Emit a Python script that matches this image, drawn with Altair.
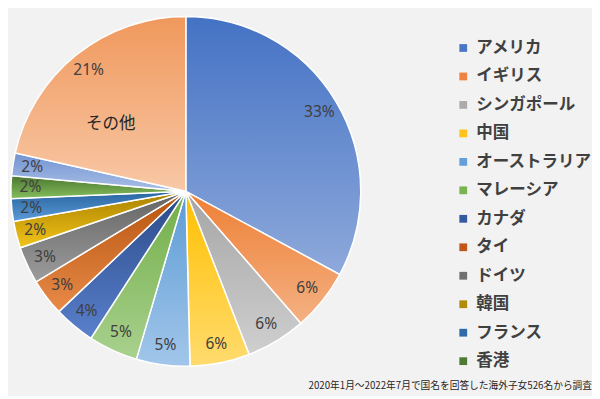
import math
import altair as alt
import pandas as pd

# ---- data (shares of 526 respondents) ----
countries = ["アメリカ", "イギリス", "シンガポール", "中国", "オーストラリア", "マレーシア",
             "カナダ", "タイ", "ドイツ", "韓国", "フランス", "香港", "（13位）", "その他"]
counts = [173, 30, 29, 29, 26, 24, 20, 18, 18, 13, 11, 11, 11, 113]
legend_countries = countries[:12]

# ---- styles ----
legend_colors = ["#4A76C8", "#EE8240", "#ABABAB", "#FFC31A", "#639FD8", "#78B352",
                 "#345A9E", "#C0561A", "#707070", "#B08C0A", "#2F6AA8", "#4F7A35"]
top_colors = ["#4472C4", "#EE7F35", "#A5A5A5", "#FFC000", "#5B9BD5", "#70AD47",
              "#2A4A88", "#B4540F", "#646464", "#A88000", "#2864A0", "#4A7530",
              "#7294D2", "#F0985C"]
bottom_colors = ["#8EA9DB", "#F4B183", "#CFCFCF", "#FFDB6E", "#A2C6EA", "#A9D18E",
                 "#5A80CC", "#EA8A48", "#9C9C9C", "#F2C418", "#5B9BD8", "#85BE5C",
                 "#A9BEE6", "#F8C8A6"]

FONT = "Noto Sans CJK JP"
R = 180

df = pd.DataFrame({"country": countries, "count": counts, "order": list(range(len(countries)))})

base = (
    alt.Chart(df)
    .transform_joinaggregate(total="sum(count)")
    .transform_window(cum="sum(count)", sort=[alt.SortField("order")], frame=[None, 0])
    .transform_calculate(
        f_start="(datum.cum - datum.count) / datum.total",
        f_end="datum.cum / datum.total",
        f_mid="(datum.cum - datum.count / 2) / datum.total",
        pct="format(datum.count / datum.total, '.0%')",
    )
)

theta_scale = alt.Scale(domain=[0, 1], range=[0, 2 * math.pi])

legend_layer = (
    base.transform_filter(alt.FieldOneOfPredicate(field="country", oneOf=legend_countries))
    .mark_arc(outerRadius=R, stroke="white", strokeWidth=1.5)
    .encode(
        theta=alt.Theta("f_start:Q", scale=theta_scale, stack=False),
        theta2="f_end:Q",
        color=alt.Color(
            "country:N",
            scale=alt.Scale(domain=legend_countries, range=legend_colors),
            legend=alt.Legend(
                title=None, orient="none", legendX=457, legendY=25,
                symbolType="square", symbolSize=64, symbolStrokeWidth=0,
                labelFont=FONT, labelFontSize=17, labelFontWeight="bold",
                labelColor="#404040", labelOffset=5, rowPadding=11.3,
                padding=0, labelLimit=400,
            ),
        ),
    )
)

grad_layers = []
for name, top, bottom in zip(countries, top_colors, bottom_colors):
    grad = alt.Gradient(
        gradient="linear",
        stops=[alt.GradientStop(offset=0, color=top), alt.GradientStop(offset=1, color=bottom)],
        x1=0, y1=0, x2=0, y2=1,
    )
    grad_layers.append(
        base.transform_filter(alt.datum.country == name)
        .mark_arc(outerRadius=R, stroke="white", strokeWidth=1.5, fill=grad)
        .encode(
            theta=alt.Theta("f_start:Q", scale=theta_scale, stack=False),
            theta2="f_end:Q",
        )
    )

pct_layer = base.mark_text(radius=160, fontSize=16, font="Noto Sans", color="#404040").encode(
    theta=alt.Theta("f_mid:Q", scale=theta_scale, stack=False),
    text="pct:N",
)

other_layer = (
    base.transform_filter(alt.datum.country == "その他")
    .mark_text(radius=98, dx=-16, dy=7, fontSize=17, font=FONT, color="#262626")
    .encode(
        theta=alt.Theta("f_mid:Q", scale=theta_scale, stack=False),
        text="country:N",
    )
)

chart = (
    alt.layer(legend_layer, *grad_layers, pct_layer, other_layer)
    .properties(
        width=360,
        height=362,
        padding=0,
        background="#f2f2f2",
        title=alt.TitleParams(
            text="2020年1月～2022年7月で国名を回答した海外子女526名から調査",
            orient="bottom", anchor="end", fontSize=10, font=FONT,
            fontWeight="normal", color="#262626", offset=12,
        ),
    )
    .configure_view(stroke=None)
)

chart.save("out.html", embed_options={"renderer": "svg", "actions": False})
